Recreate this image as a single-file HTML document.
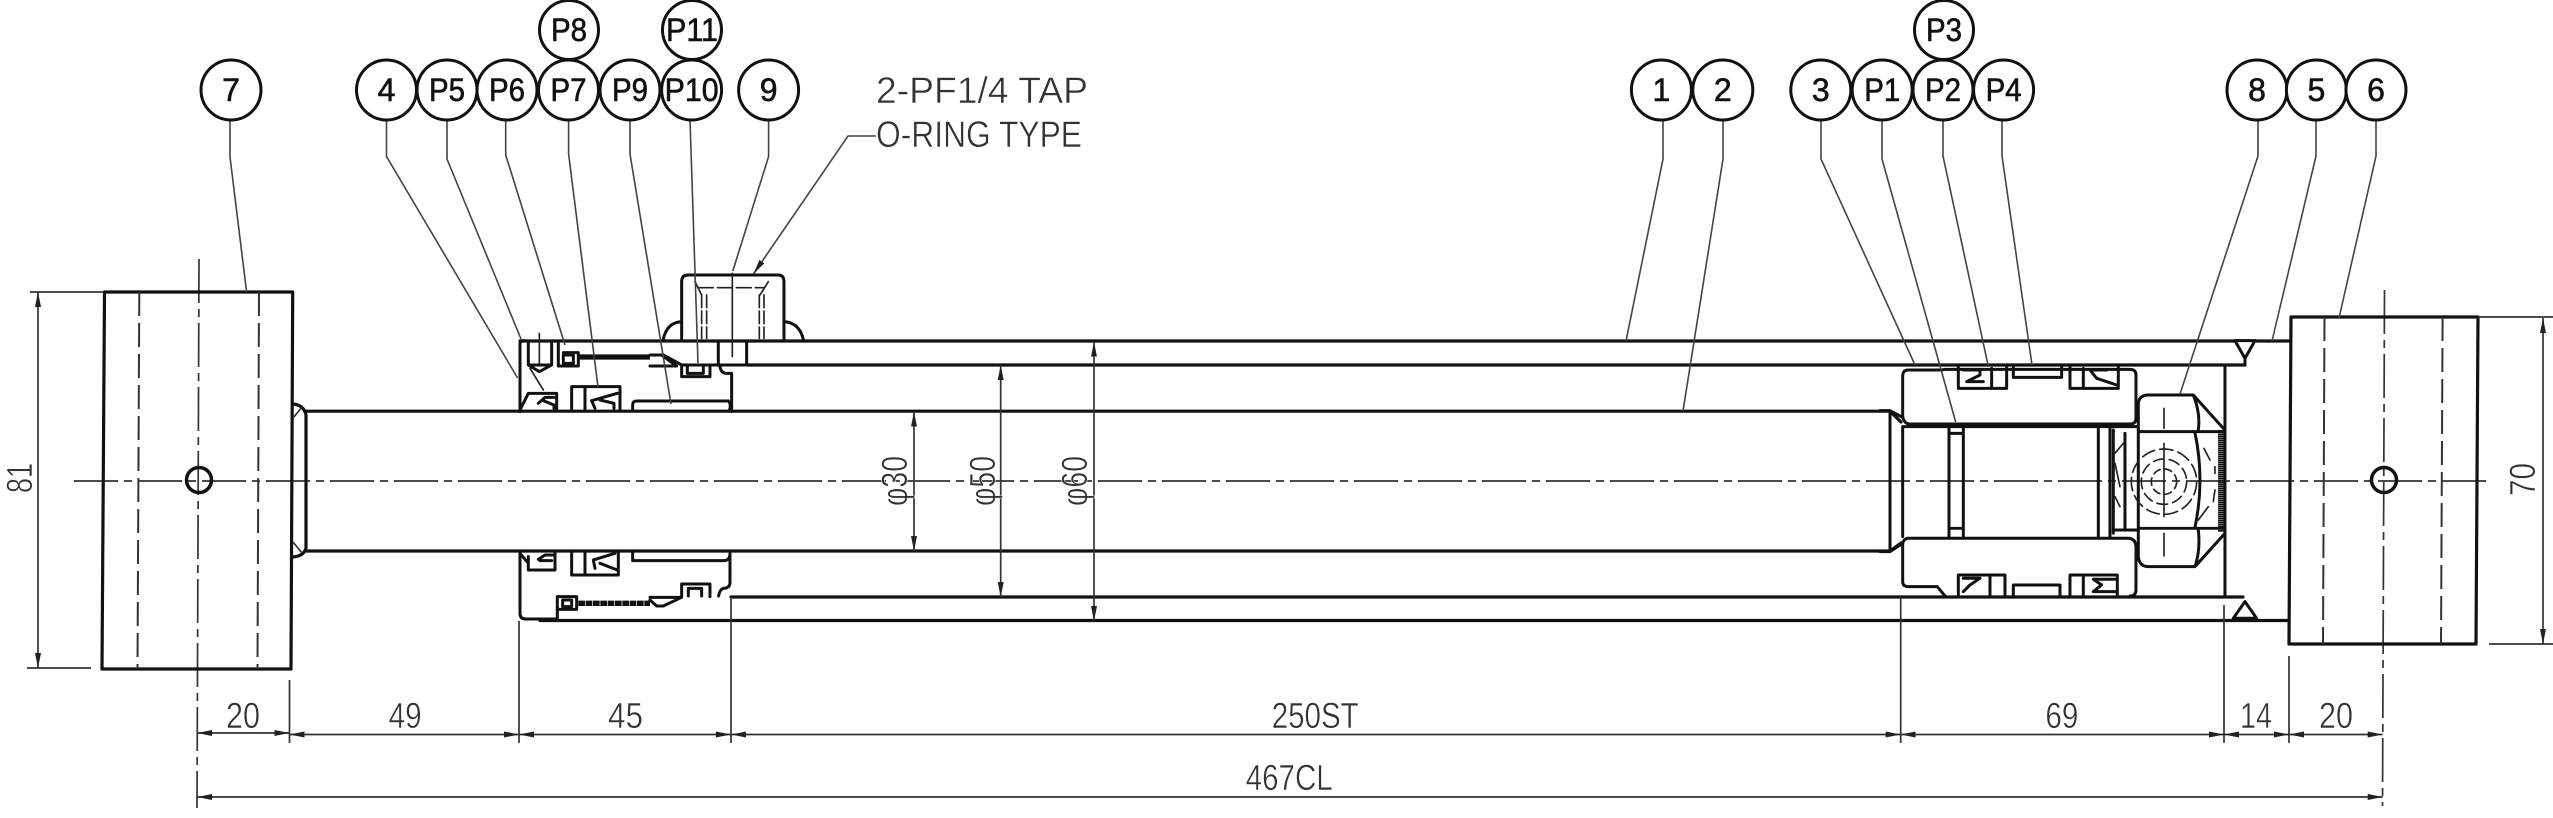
<!DOCTYPE html>
<html><head><meta charset="utf-8"><title>Hydraulic cylinder drawing</title>
<style>
html,body{margin:0;padding:0;background:#fff;width:2553px;height:818px;overflow:hidden}
svg{display:block}
text{font-family:"Liberation Sans",sans-serif}
.th{fill:none;stroke:#111;stroke-width:3.2;stroke-linejoin:round;stroke-linecap:round}
.tn{fill:none;stroke:#333;stroke-width:1.7}
.ld{fill:none;stroke:#444;stroke-width:1.6}
.da{fill:none;stroke:#333;stroke-width:2;stroke-dasharray:24 7}
.cl{fill:none;stroke:#333;stroke-width:1.7;stroke-dasharray:44 6 8 6}
.c{fill:#fff;stroke:#111;stroke-width:3}
.n{font-size:32px;fill:#111;stroke:#111;stroke-width:.6}
.d{font-size:36px;fill:#333;stroke:#fff;stroke-width:.5}
.z{fill:none;stroke:#111;stroke-width:9;stroke-linejoin:round;stroke-linecap:round}
.zt{fill:none;stroke:#222;stroke-width:5;stroke-linecap:round}
</style></head><body>
<svg width="2553" height="818" viewBox="0 0 2553 818" xmlns="http://www.w3.org/2000/svg">
<defs>
<marker id="a" markerUnits="userSpaceOnUse" markerWidth="16" markerHeight="8" refX="15" refY="4" orient="auto-start-reverse"><path d="M0 1L15 4L0 7Z" fill="#222"/></marker>
</defs>
<rect width="2553" height="818" fill="#fff"/>

<!-- centre lines -->
<path class="cl" d="M74 481H2489"/>
<path class="cl" d="M199 259L197 808"/>
<path class="cl" d="M2384.500 290L2382.500 806"/>

<!-- yokes -->
<path class="th" d="M104.500 292H292.700L291 669H102Z"/>
<path class="da" d="M139.300 292L137.500 669M259 292L257.500 669"/>
<path class="th" d="M2291 317H2478L2476 644H2289Z"/>
<path class="da" d="M2324.500 317L2323 644M2442.600 317L2441 644"/>
<circle cx="199" cy="480" r="12.500" fill="none" stroke="#111" stroke-width="3.500"/>
<circle cx="2384" cy="480" r="12.500" fill="none" stroke="#111" stroke-width="3.500"/>

<!-- rod -->
<path class="th" d="M293 404Q304 405 306 415V548Q304 556 293 557"/>
<path class="tn" d="M293 418L302 407M293 542L302 553"/>
<path class="th" d="M306 411.200H1890L1901 422M306 551H1890L1901 543"/>

<!-- tube -->
<path class="th" d="M520 341H2290M747 365H2245M731 597H2243M540 620.500H2289"/>

<!-- gland top -->
<g transform="translate(480,240) scale(.3333)">
<path class="z" d="M120 515V312Q120 302 132 302"/>
<path class="z" d="M145 305V375L178 395L215 375V305M145 375H215"/>
<path class="zt" d="M178 280V370M150 385L190 450"/>
<path class="z" d="M235 305V378H295V338H250M250 345H280V370H250Z"/>
<path d="M295 351H510" stroke="#111" stroke-width="16" fill="none"/>
<path class="z" d="M510 345H550L605 375H720M510 378H590L545 345M605 375V410H690V375"/>
<path class="z" d="M622 380V400H670V380"/>
<path class="z" d="M720 378Q722 400 740 400H755V515M715 305V375H800V305"/>
<path class="z" d="M120 510L145 460H230V510M175 490L195 472H222M190 482L222 495V505"/>
<path class="z" d="M275 510V440H420V510M315 440V510M345 505L335 482L412 460M360 480L402 490V505"/>
<path class="z" d="M745 483H470Q458 483 458 495V512M745 483Q755 492 748 512"/>
<path class="z" d="M605 300V125Q605 105 625 105H895Q912 105 912 125V300"/>
<path class="z" d="M550 298Q560 248 605 245M912 245Q958 248 970 298" stroke-width="7"/>
<path class="zt" d="M655 143H850" stroke-dasharray="45 12"/>
<path class="zt" d="M665 165V295M680 165V295M838 165V295M852 165V295" stroke-dasharray="38 10"/>
<path class="zt" d="M645 125L665 165M865 125L840 165"/>
<path class="zt" d="M757 100V350" stroke-width="4"/>
</g>

<!-- gland bottom -->
<g transform="translate(480,520) scale(.3333)">
<path class="z" d="M120 93V280Q120 297 137 297H232V268"/>
<path class="z" d="M145 110V150H225V93M120 100L145 130M175 118L195 105H220M180 122H215"/>
<path class="z" d="M275 93V165H415V93M315 93V165M345 145L340 120L405 100M360 130L412 150"/>
<path class="z" d="M458 93V122H730Q750 122 750 100V190Q748 205 730 205Q718 210 716 228"/>
<path class="z" d="M605 230V192H690V230M625 228V205H665V228"/>
<path class="z" d="M232 230V268H290V230ZM248 240H275V260H248Z"/>
<path d="M295 250H510" stroke="#111" stroke-width="16" fill="none" stroke-dasharray="20 2"/>
<path class="z" d="M510 232H605L550 258H530L510 240"/>
</g>

<!-- piston -->
<g transform="translate(1880,320) scale(.3333)">
<path class="z" d="M30 280V690M0 272H30L68 292M0 695H30L68 670"/>
<path class="z" d="M185 150H85Q68 150 68 168V290Q72 312 90 312H750Q768 312 768 295V165Q768 148 750 148H195L185 150"/>
<path class="z" d="M235 140V205H380V140M335 145V205M250 150H300V165L260 185H310"/>
<path class="z" d="M400 140V172H545V140"/>
<path class="z" d="M570 140V205H715V140M610 145V205M680 150H630L650 175L710 195"/>
<path class="z" d="M68 320H770M68 320V650M207 320V650M250 320V650M655 320V650M690 320V650M207 340H250M207 625H250"/>
<path class="z" d="M700 330V640M735 340V630M700 630H770" stroke-width="6"/>
<path class="z" d="M85 655H750Q768 660 768 680V810Q768 828 750 828M68 670Q72 655 85 655M68 670V785Q68 800 85 800H172L195 828"/>
<path class="z" d="M235 830V765H375V830M330 765V830M250 775H300L270 795L250 815"/>
<path class="z" d="M400 830V795H540V830"/>
<path class="z" d="M570 830V765H712V830M610 765V830M705 778H640L665 795L640 815H705"/>
<path class="z" d="M1035 135V830"/>
<path class="z" d="M775 330V250Q778 225 805 225H940L1030 325M955 330Q962 280 940 225"/>
<path class="z" d="M775 630V710Q778 740 805 740H945L1035 640M955 630Q962 690 945 740"/>
<path class="z" d="M775 335H1030M775 625H1030M775 330V630"/>
<path class="z" d="M945 338Q975 480 945 622" stroke-width="7"/>
<path d="M1025 330V635" stroke="#111" stroke-width="22" stroke-dasharray="5 1" fill="none"/>
<path class="zt" d="M852 265V325M852 370V590M852 640V708"/>
<circle cx="852" cy="485" r="38" class="zt" stroke-dasharray="22 14"/>
<circle cx="852" cy="485" r="68" class="zt" stroke-dasharray="32 16"/>
<circle cx="852" cy="485" r="98" class="zt" stroke-dasharray="40 16"/>
<path class="zt" d="M972 385L990 420M1005 440L1005 460M1005 510L1000 545M985 560L955 600M705 400L730 370M705 430L720 500M705 530L720 560"/>
<path class="z" d="M1065 62H1125L1095 115ZM1095 115V135" style="fill:#fff"/>
<path class="z" d="M1095 845L1060 895H1130Z" style="fill:#fff"/>
</g>

<!-- extension lines -->
<path class="tn" d="M289.500 680V743M519 621V743M731 597V743M1900.700 597V743M2224 605V743M2289 656V743"/>
<path class="tn" d="M30 292H103M27 668H91M2478 317H2553M2489 644H2553"/>

<!-- dimension lines -->
<path class="tn" d="M197 733H289.500" marker-start="url(#a)" marker-end="url(#a)"/>
<path class="tn" d="M289.500 734.500H519" marker-start="url(#a)" marker-end="url(#a)"/>
<path class="tn" d="M519 734.500H731" marker-start="url(#a)" marker-end="url(#a)"/>
<path class="tn" d="M731 734.500H1900.700" marker-start="url(#a)" marker-end="url(#a)"/>
<path class="tn" d="M1900.700 734.500H2224" marker-start="url(#a)" marker-end="url(#a)"/>
<path class="tn" d="M2224 734.500H2289" marker-start="url(#a)" marker-end="url(#a)"/>
<path class="tn" d="M2289 734.500H2382.700" marker-start="url(#a)" marker-end="url(#a)"/>
<path class="tn" d="M197 797H2382.700" marker-start="url(#a)" marker-end="url(#a)"/>
<path class="tn" d="M38 292V668" marker-start="url(#a)" marker-end="url(#a)"/>
<path class="tn" d="M2543 318V644" marker-start="url(#a)" marker-end="url(#a)"/>
<path class="tn" d="M914 411.600V551" marker-start="url(#a)" marker-end="url(#a)"/>
<path class="tn" d="M1000.700 365V597" marker-start="url(#a)" marker-end="url(#a)"/>
<path class="tn" d="M1094 341.700V621" marker-start="url(#a)" marker-end="url(#a)"/>

<!-- leaders -->
<path class="ld" d="M230 119V157L246.600 292"/>
<path class="ld" d="M386.500 120V156.500L517.600 378"/>
<path class="ld" d="M447 120V159L521 339"/>
<path class="ld" d="M505.700 120V155L565 345"/>
<path class="ld" d="M568.600 120V154L598 387"/>
<path class="ld" d="M630 120V154L671 404"/>
<path class="ld" d="M690 120L698 363"/>
<path class="ld" d="M768.600 120V156.500L732.800 271"/>
<path class="ld" d="M876 136H848L753.400 274" marker-end="url(#a)"/>
<path class="ld" d="M1663 120V159L1626 341"/>
<path class="ld" d="M1723 120V159L1683 411"/>
<path class="ld" d="M1821 120V159L1915 365"/>
<path class="ld" d="M1882 120V159L1955.700 422"/>
<path class="ld" d="M1943 120V156L1988 365"/>
<path class="ld" d="M2002 120V156L2032 365"/>
<path class="ld" d="M2258 120V156L2180 394"/>
<path class="ld" d="M2316 120V156L2272 341"/>
<path class="ld" d="M2376 120V156L2339 318"/>

<!-- balloons -->
<g>
<circle class="c" cx="569" cy="30" r="29.500"/><circle class="c" cx="692" cy="30" r="29.500"/><circle class="c" cx="1944" cy="30" r="29.500"/>
<circle class="c" cx="231" cy="90" r="30"/><circle class="c" cx="386.500" cy="90" r="30"/><circle class="c" cx="447" cy="90" r="30"/><circle class="c" cx="507" cy="90" r="30"/><circle class="c" cx="568.500" cy="90" r="30"/><circle class="c" cx="630" cy="90" r="30"/><circle class="c" cx="691.600" cy="90" r="30"/><circle class="c" cx="768.600" cy="90" r="30"/>
<circle class="c" cx="1661.400" cy="90" r="30"/><circle class="c" cx="1722.800" cy="90" r="30"/><circle class="c" cx="1820.800" cy="90" r="30"/><circle class="c" cx="1882.200" cy="90" r="30"/><circle class="c" cx="1943" cy="90" r="30"/><circle class="c" cx="2003.600" cy="90" r="30"/><circle class="c" cx="2257" cy="90" r="30"/><circle class="c" cx="2316.400" cy="90" r="30"/><circle class="c" cx="2376" cy="90" r="30"/>
</g>
<g class="n" text-anchor="middle">
<text x="569" y="41" textLength="36" lengthAdjust="spacingAndGlyphs">P8</text>
<text x="692" y="41" textLength="52" lengthAdjust="spacingAndGlyphs">P11</text>
<text x="1944" y="41" textLength="36" lengthAdjust="spacingAndGlyphs">P3</text>
<text x="231" y="101">7</text>
<text x="386.500" y="101">4</text>
<text x="447" y="101" textLength="36" lengthAdjust="spacingAndGlyphs">P5</text>
<text x="507" y="101" textLength="36" lengthAdjust="spacingAndGlyphs">P6</text>
<text x="568.500" y="101" textLength="36" lengthAdjust="spacingAndGlyphs">P7</text>
<text x="630" y="101" textLength="36" lengthAdjust="spacingAndGlyphs">P9</text>
<text x="691.600" y="101" textLength="54" lengthAdjust="spacingAndGlyphs">P10</text>
<text x="768.600" y="101">9</text>
<text x="1661.400" y="101">1</text>
<text x="1722.800" y="101">2</text>
<text x="1820.800" y="101">3</text>
<text x="1882.200" y="101" textLength="36" lengthAdjust="spacingAndGlyphs">P1</text>
<text x="1943" y="101" textLength="36" lengthAdjust="spacingAndGlyphs">P2</text>
<text x="2003.600" y="101" textLength="36" lengthAdjust="spacingAndGlyphs">P4</text>
<text x="2257" y="101">8</text>
<text x="2316.400" y="101">5</text>
<text x="2376" y="101">6</text>
</g>

<!-- notes and dimensions -->
<text class="d" style="font-size:37px" x="876" y="103" textLength="212" lengthAdjust="spacingAndGlyphs">2-PF1/4 TAP</text>
<text class="d" style="font-size:37px" x="876" y="147" textLength="206" lengthAdjust="spacingAndGlyphs">O-RING TYPE</text>
<text class="d" x="226" y="728" textLength="34" lengthAdjust="spacingAndGlyphs">20</text>
<text class="d" x="388.600" y="728" textLength="33" lengthAdjust="spacingAndGlyphs">49</text>
<text class="d" x="608" y="728" textLength="35" lengthAdjust="spacingAndGlyphs">45</text>
<text class="d" x="1271.700" y="728" textLength="87" lengthAdjust="spacingAndGlyphs">250ST</text>
<text class="d" x="1245.700" y="790" textLength="87" lengthAdjust="spacingAndGlyphs">467CL</text>
<text class="d" x="2045.400" y="728" textLength="33" lengthAdjust="spacingAndGlyphs">69</text>
<text class="d" x="2240" y="728" textLength="32" lengthAdjust="spacingAndGlyphs">14</text>
<text class="d" x="2319" y="728" textLength="34" lengthAdjust="spacingAndGlyphs">20</text>
<text class="d" transform="translate(32,493) rotate(-90)" textLength="30" lengthAdjust="spacingAndGlyphs">81</text>
<text class="d" transform="translate(2535,496) rotate(-90)" textLength="33" lengthAdjust="spacingAndGlyphs">70</text>
<text class="d" transform="translate(907,506) rotate(-90)" textLength="50" lengthAdjust="spacingAndGlyphs">φ30</text>
<text class="d" transform="translate(995,506) rotate(-90)" textLength="50" lengthAdjust="spacingAndGlyphs">φ50</text>
<text class="d" transform="translate(1087,506) rotate(-90)" textLength="50" lengthAdjust="spacingAndGlyphs">φ60</text>
</svg>
</body></html>
